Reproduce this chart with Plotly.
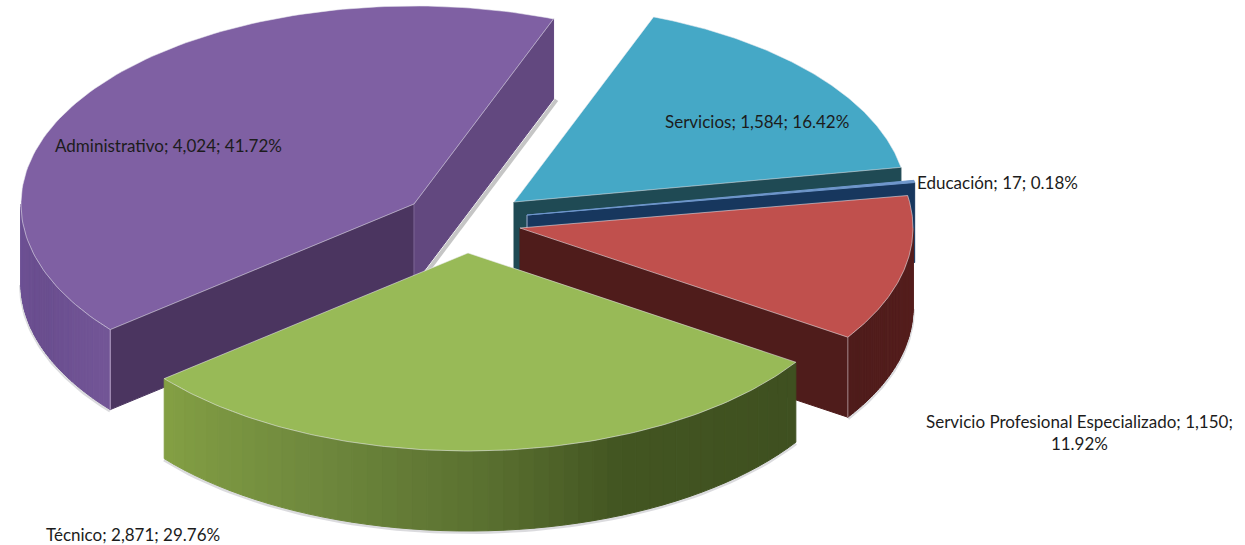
import math
import plotly.graph_objects as go

# ---- data ----
categories = ["Servicios", "Educación", "Servicio Profesional Especializado", "Técnico", "Administrativo"]
values = [1584, 17, 1150, 2871, 4024]

# ---- style / geometry of the exploded 3-D pie ----
START_ANGLE = 69.2      # degrees, slices run clockwise
RX, RY, DEPTH = 393, 198, 80
apex = {
    "Administrativo": (414, 204),
    "Servicios": (514, 202),
    "Educación": (527, 215),
    "Servicio Profesional Especializado": (520, 228),
    "Técnico": (468, 253),
}
top_color = {
    "Administrativo": "#7F60A3", "Servicios": "#45A8C6", "Educación": "#6F97CC",
    "Servicio Profesional Especializado": "#C0504D", "Técnico": "#98BA57",
}
lo_face = {
    "Administrativo": "#62487F", "Servicios": "#1F4A54", "Educación": "#17375E",
    "Servicio Profesional Especializado": "#4F1C1B", "Técnico": "#3F5020",
}
hi_face = {"Administrativo": "#4B3560"}
arc_stops = {
    "Administrativo": [(0.0, "#6F5296"), (0.5, "#6A4E8F"), (1.0, "#735697")],
    "Servicio Profesional Especializado": [(0.0, "#4F1C1B"), (1.0, "#571F1E")],
    "Técnico": [(0.0, "#84A044"), (0.25, "#708A3E"), (0.5, "#5A7030"), (0.68, "#435622"), (1.0, "#3F5020")],
}
draw_order = ["Administrativo", "Servicios", "Educación", "Servicio Profesional Especializado", "Técnico"]
label_pos = {
    "Administrativo": (168, 145, "center"),
    "Servicios": (757, 121, "center"),
    "Educación": (997, 182, "center"),
    "Servicio Profesional Especializado": (1079, 432, "center"),
    "Técnico": (133, 534, "center"),
}
FONT = "Lato, Carlito, Calibri, sans-serif"

total = sum(values)


def hex_rgb(c):
    return tuple(int(c[i:i + 2], 16) for i in (1, 3, 5))


def gradient(stops, f):
    for (f0, c0), (f1, c1) in zip(stops, stops[1:]):
        if f <= f1:
            u = (f - f0) / (f1 - f0)
            a, b = hex_rgb(c0), hex_rgb(c1)
            return "rgb(%d,%d,%d)" % tuple(a[i] + (b[i] - a[i]) * u for i in range(3))
    return stops[-1][1]


def point(name, t, dz=0):
    ax, ay = apex[name]
    r = math.radians(t)
    return ax + RX * math.cos(r), ay - RY * math.sin(r) + dz


# slice angle spans derived from the values
spans = {}
a = START_ANGLE
for c, v in zip(categories, values):
    sweep = 360 * v / total
    spans[c] = (a - sweep, a)     # (low, high)
    a -= sweep
# Administrativo wraps around past 180 degrees: keep it on the left side
lo, hi = spans["Administrativo"]
spans["Administrativo"] = (lo + 360, hi + 360)

fig = go.Figure()


def poly(xs, ys, fill, line=None, lw=1):
    fig.add_trace(go.Scatter(
        x=xs, y=ys, mode="lines", fill="toself", fillcolor=fill,
        line=dict(color=line or fill, width=lw), hoverinfo="skip", showlegend=False))


def stroke(xs, ys, color, lw):
    fig.add_trace(go.Scatter(
        x=xs, y=ys, mode="lines", line=dict(color=color, width=lw),
        hoverinfo="skip", showlegend=False))


def arc_range(lo, hi, n=80):
    return [lo + (hi - lo) * i / n for i in range(n + 1)]


def front_range(lo, hi):
    """Part of the span on the front half of the ellipse (sin t < 0)."""
    for k in (-360, 0, 360):
        a0, a1 = max(lo, 180 + k), min(hi, 360 + k)
        if a1 > a0:
            yield a0, a1


# soft shadows under the slices
for name in ["Administrativo", "Servicio Profesional Especializado", "Técnico"]:
    lo, hi = spans[name]
    for a0, a1 in front_range(lo, hi):
        pts = [point(name, t, DEPTH + 1) for t in arc_range(a0, a1)]
        xs, ys = zip(*pts)
        stroke(list(xs), list(ys), "rgba(110,110,125,0.25)", 4)
lx, ly = point("Administrativo", spans["Administrativo"][0], DEPTH)
ax0, ay0 = apex["Administrativo"]
stroke([lx + 3, ax0 + 3], [ly + 1, ay0 + DEPTH + 1], "rgba(110,110,110,0.40)", 4)

for name in draw_order:
    lo, hi = spans[name]
    ax0, ay0 = apex[name]

    # high-angle radial face, when it faces the viewer
    if math.sin(math.radians(hi + 90)) < 0:
        px, py = point(name, hi)
        poly([ax0, px, px, ax0, ax0], [ay0, py, py + DEPTH, ay0 + DEPTH, ay0], hi_face[name])

    # low-angle radial face, when it faces the viewer
    if math.sin(math.radians(lo - 90)) < 0:
        px, py = point(name, lo)
        poly([ax0, px, px, ax0, ax0], [ay0, py, py + DEPTH, ay0 + DEPTH, ay0], lo_face[name])

    # outer rim, in small shaded strips
    for a0, a1 in front_range(lo, hi):
        n = 48
        stops = arc_stops.get(name, [(0, lo_face[name]), (1, lo_face[name])])
        for i in range(n):
            t0, t1 = a0 + (a1 - a0) * i / n, a0 + (a1 - a0) * (i + 1) / n
            p0, p1 = point(name, t0), point(name, t1)
            q0, q1 = point(name, t0, DEPTH), point(name, t1, DEPTH)
            poly([p0[0], p1[0], q1[0], q0[0], p0[0]],
                 [p0[1], p1[1], q1[1], q0[1], p0[1]],
                 gradient(stops, (i + 0.5) / n))

    # vertical highlights on the corners
    if name in ("Administrativo", "Servicio Profesional Especializado"):
        px, py = point(name, lo if name != "Administrativo" else hi)
        stroke([px, px], [py, py + DEPTH], "rgba(235,225,235,0.55)", 1)
    if name == "Administrativo":
        stroke([ax0, ax0], [ay0, ay0 + DEPTH], "rgba(150,130,170,0.5)", 1)
    if name == "Educación":
        stroke([ax0, ax0], [ay0, ay0 + 14], "rgba(200,215,235,0.8)", 1)

    # top face
    pts = [point(name, t) for t in arc_range(lo, hi, 120)]
    xs = [ax0] + [p[0] for p in pts] + [ax0]
    ys = [ay0] + [p[1] for p in pts] + [ay0]
    edge = "rgba(235,235,240,0.55)" if name != "Educación" else top_color[name]
    poly(xs, ys, top_color[name], edge, 1)

annotations = []
for c, v in zip(categories, values):
    txt = f"{c}; {v:,}; {100 * v / total:.2f}%"
    if c == "Servicio Profesional Especializado":
        txt = f"{c}; {v:,};<br>{100 * v / total:.2f}%"
    x, y, anc = label_pos[c]
    annotations.append(dict(x=x, y=y, text=txt, showarrow=False, xanchor=anc, yanchor="middle",
                            font=dict(family=FONT, size=17, color="#1c1c1c"), align="center"))

fig.update_layout(
    width=1245, height=545, margin=dict(l=0, r=0, t=0, b=0),
    paper_bgcolor="white", plot_bgcolor="white", showlegend=False,
    xaxis=dict(range=[0, 1245], visible=False, fixedrange=True),
    yaxis=dict(range=[545, 0], visible=False, fixedrange=True),
    annotations=annotations,
)
fig.write_html("out.html", config={"displayModeBar": False},
               post_script="document.body.style.margin='0';document.body.style.overflow='hidden';")
